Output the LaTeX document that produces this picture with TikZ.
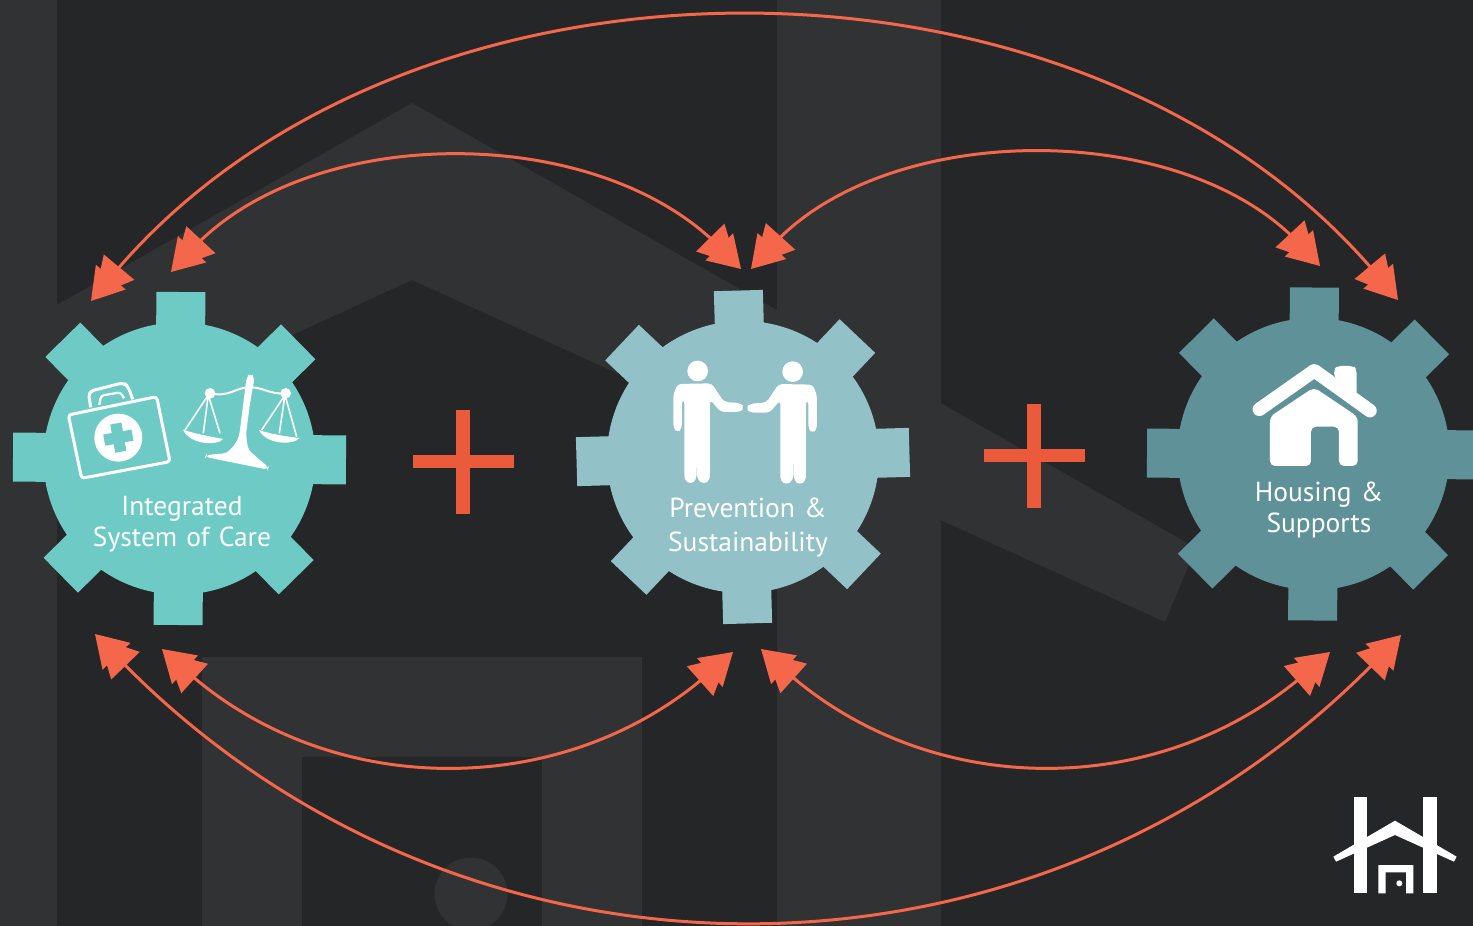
\documentclass[tikz,border=0pt]{standalone}
\usepackage{fontspec}
\setmainfont[WordSpace=0.6]{PT Sans}
\usetikzlibrary{arrows.meta}
\definecolor{bgdark}{HTML}{252628}
\definecolor{bglight}{HTML}{313234}
\definecolor{flowred}{HTML}{F4674A}
\definecolor{plusred}{HTML}{EC5A3C}
\definecolor{geartealA}{HTML}{6ECAC5}
\definecolor{geartealB}{HTML}{93C1C8}
\definecolor{geartealC}{HTML}{5F9199}
\tikzset{
  flow/.style={draw=flowred, line width=3pt, <->,
    >={Triangle[length=38pt,width=39pt,sep=-25pt]Triangle[length=31pt,width=38pt]}},
  gearbody/.style={circle, minimum size=272pt, inner sep=0pt, fill=#1},
  gearlabel/.style={text=white, font=\fontsize{27.5}{31}\selectfont, align=center},
  icon/.style={fill=white, draw=none},
  iconline/.style={draw=white, fill=none, line width=3pt, line join=round},
}
\newcommand{\gearteeth}[3]{%
  \begin{scope}[shift={(#1)}, rotate=#2]
    \foreach \a in {0,45,...,315}
      \fill[#3, rotate=\a] (120,-24.5) rectangle (166.5,24.5);
  \end{scope}}
\newcommand{\personfig}{%
  \fill[icon] (383,273) circle (31);
  \fill[icon, rounded corners=4pt] (310,345) -- (322,312) -- (425,310) -- (462,366) -- (512,369)
    -- (523,382) -- (512,396) -- (452,396) -- (420,358) -- (420,600) -- (402,613) -- (381,598)
    -- (381,455) -- (379,600) -- (362,613) -- (343,600) -- (343,358) -- (336,358) -- (336,445)
    -- (323,458) -- (310,445) -- cycle;}
\begin{document}
\begin{tikzpicture}[x=1pt,y=-1pt]
\useasboundingbox (0,0) rectangle (1473,926);
\fill[bgdark] (0,0) rectangle (1473,926);
% backdrop house
\fill[bglight] (0,0) rectangle (57,926);
\fill[bglight] (57,305) -- (412,103) -- (1196,548) -- (1165,622) -- (412,280) -- (57,443) -- cycle;
\fill[bglight] (777,0) rectangle (941,926);
\fill[bglight] (202,657) rectangle (642,926);
\fill[bgdark] (302,757) rectangle (542,926);
\fill[bglight] (471,894) circle (36.5);
% arrow ends
\coordinate (careOuterTop) at (91,301);
\coordinate (careInnerTop) at (171,272);
\coordinate (preventLeftTop) at (741,269);
\coordinate (preventRightTop) at (751,269);
\coordinate (housingInnerTop) at (1320,266);
\coordinate (housingOuterTop) at (1398,300);
\coordinate (careOuterBot) at (95,634);
\coordinate (careInnerBot) at (162,649);
\coordinate (preventLeftBot) at (733,652);
\coordinate (preventRightBot) at (761,649);
\coordinate (housingInnerBot) at (1330,652);
\coordinate (housingOuterBot) at (1401,635);
% arrows
\draw[flow] (careOuterTop) .. controls (403,-75) and (1085,-75) .. (housingOuterTop);
\draw[flow] (careInnerTop) .. controls (310,122) and (597,122) .. (preventLeftTop);
\draw[flow] (preventRightTop) .. controls (887,119) and (1183,119) .. (housingInnerTop);
\draw[flow] (careInnerBot) .. controls (330,801) and (565,801) .. (preventLeftBot);
\draw[flow] (preventRightBot) .. controls (930,801) and (1160,801) .. (housingInnerBot);
\draw[flow] (careOuterBot) .. controls (460,1013) and (1036,1013) .. (housingOuterBot);
% gears
\gearteeth{179.5,458.5}{-0.5}{geartealA}
\node[gearbody=geartealA] (care) at (179.5,458.5) {};
\gearteeth{743,457}{1.6}{geartealB}
\node[gearbody=geartealB] (prevent) at (743,457) {};
\gearteeth{1313.5,454}{-0.3}{geartealC}
\node[gearbody=geartealC] (housing) at (1313.5,454) {};
% plus signs
\fill[plusred] (413,455) rectangle (514,468);
\fill[plusred] (456,410) rectangle (470,514);
\fill[plusred] (984,449) rectangle (1085,462);
\fill[plusred] (1027,404) rectangle (1041,508);
% labels
\node[gearlabel, text width=220pt] (careLabel) at (182,524) {Integrated\\System of Care};
\node[gearlabel, text width=220pt, font=\fontsize{27.5}{34}\selectfont] (preventLabel) at (748,528) {Prevention \&\\Sustainability};
\node[gearlabel, text width=220pt] (housingLabel) at (1319,510) {Housing \&\\Supports};
% kit and scales
\begin{scope}[shift={(0,280)},x=.3333pt,y=-.3333pt]
  \draw[iconline, rounded corners=3pt] (205,405) -- (470,350) -- (510,545) -- (245,595) -- cycle;
  \draw[iconline, rounded corners=5pt] (272,382) -- (265,335) -- (370,308) -- (385,320) -- (398,358);
  \draw[iconline, line width=2.2pt, rounded corners=3pt] (298,375) -- (303,347) -- (362,337) -- (372,355);
  \fill[icon] (355,473) circle (72);
  \fill[geartealA, rotate around={10:(355,473)}] (338,430) rectangle (372,516);
  \fill[geartealA, rotate around={10:(355,473)}] (312,456) rectangle (398,490);
  \fill[icon, rounded corners=4pt] (740,290) -- (752,280) -- (764,292) -- (750,370) -- (738,465)
    -- (745,510) -- (806,562) -- (804,569) -- (616,531) -- (618,525) -- (680,520) -- (708,490)
    -- (718,465) -- (730,370) -- cycle;
  \draw[white, line width=2pt] (630,340) .. controls (690,352) and (700,325) .. (745,322)
    .. controls (790,320) and (810,345) .. (857,340);
  \fill[icon] (630,340) circle (16);
  \fill[icon] (857,340) circle (16);
  \draw[white, line width=1.6pt, line join=round] (555,450) -- (625,345) -- (660,460) (625,345) -- (610,460);
  \draw[white, line width=1.6pt, line join=round] (785,450) -- (855,345) -- (890,470) (855,345) -- (838,460);
  \fill[icon] (549,449) .. controls (580,460) and (630,470) .. (670,477) .. controls (650,498) and (570,495) .. cycle;
  \fill[icon] (777,450) .. controls (810,462) and (860,470) .. (899,474) .. controls (880,496) and (800,495) .. cycle;
\end{scope}
% two people
\begin{scope}[shift={(570,280)},x=.3333pt,y=-.3333pt]
  \personfig
  \begin{scope}[shift={(1051,2)},xscale=-1]
    \personfig
  \end{scope}
\end{scope}
% house
\begin{scope}[shift={(1140,280)},x=.3333pt,y=-.3333pt]
  \fill[icon, rounded corners=4pt] (582,290) -- (582,268) -- (592,258) -- (640,258) -- (650,268) -- (650,350) -- cycle;
  \draw[white, line width=13.5pt, line cap=round, line join=round] (358,388) -- (523,272) -- (690,392);
  \fill[icon, rounded corners=5pt] (390,410) -- (522,322) -- (653,410) -- (653,558) -- (597,558)
    -- (597,440) -- (513,440) -- (513,558) -- (390,558) -- cycle;
\end{scope}
% logo
\begin{scope}[shift={(1320,780)},x=.3333pt,y=-.3333pt]
  \fill[icon] (103,50) rectangle (142,340);
  \fill[icon] (310,50) rectangle (350,340);
  \fill[icon] (40,230) -- (225,122) -- (410,230) -- (402,245) -- (225,165) -- (48,245) -- cycle;
  \fill[icon] (175,340) -- (175,255) -- (280,255) -- (280,340) -- (258,340) -- (258,277) -- (197,277) -- (197,340) -- cycle;
  \fill[icon] (238,310) circle (9);
\end{scope}
\end{tikzpicture}
\end{document}
